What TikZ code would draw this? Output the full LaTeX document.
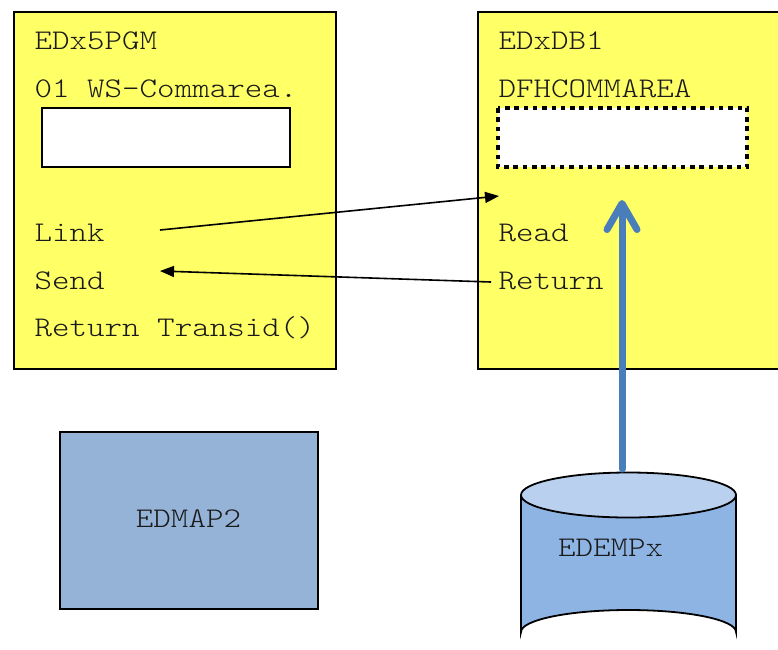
\documentclass[tikz,border=0pt]{standalone}
\usepackage{fontspec}
\setmonofont{Latin Modern Mono Light}[FakeStretch=1.17]
\usetikzlibrary{arrows.meta}
\definecolor{ylw}{HTML}{FFFF66}
\definecolor{mapblue}{HTML}{95B3D7}
\definecolor{dbbody}{HTML}{8EB4E3}
\definecolor{dbtop}{HTML}{B9D1EE}
\definecolor{arrblue}{HTML}{4A7EBB}
\definecolor{txt}{HTML}{1A1A1A}
\tikzset{
  lbl/.style={anchor=base west, inner sep=0pt, font=\ttfamily\fontsize{28.5}{34}\selectfont, text=txt},
  pgmbox/.style={draw=black, line width=1.8pt, fill=ylw},
  areabox/.style={draw=black, line width=1.6pt, fill=white},
  dotbox/.style={draw=black, line width=4.5pt, fill=white, dash pattern=on 4.5pt off 4.8pt},
  flow/.style={line width=1.6pt, -{Triangle[length=14pt,width=11pt]}},
  bigflow/.style={line width=7pt, draw=arrblue, line cap=round, -{Straight Barb[length=26pt,width=30pt,round]}},
}
\begin{document}
\begin{tikzpicture}[x=1pt,y=-1pt]
\useasboundingbox (0,0) rectangle (778,649);
\clip (0,0) rectangle (778,649);
% program boxes
\draw[pgmbox] (14,12) rectangle (336,369);
\draw[pgmbox] (478,12) rectangle (800,369);
\draw[areabox] (42,108) rectangle (290,167);
\draw[dotbox] (498,108) rectangle (747,167);
% left texts
\node[lbl] (pgm) at (34.5,49) {EDx5PGM};
\node[lbl] (ws) at (34.5,97) {01 WS-Commarea.};
\node[lbl] (link) at (34.5,241) {Link};
\node[lbl] (send) at (34.5,289) {Send};
\node[lbl] (rettr) at (34.5,336) {Return Transid()};
% right texts
\node[lbl] (db) at (498.5,49) {EDxDB1};
\node[lbl] (dfh) at (498.5,97) {DFHCOMMAREA};
\node[lbl] (read) at (498.5,241) {Read};
\node[lbl] (ret) at (498.5,289) {Return};
% map box
\node[draw=black, line width=1.8pt, fill=mapblue, minimum width=258pt, minimum height=177pt, inner sep=0pt] (map) at (189,520.5) {};
\node[lbl, anchor=base] (maplbl) at (188.5,527) {EDMAP2};
% cylinder
\fill[dbbody] (521,495) -- (521,632) arc[start angle=180,end angle=360,x radius=107.5,y radius=22] -- (736,495) -- cycle;
\draw[black, line width=1.8pt] (521,495) -- (521,632) arc[start angle=180,end angle=360,x radius=107.5,y radius=22] -- (736,495);
\draw[black, line width=1.8pt, fill=dbtop] (628.5,495) ellipse[x radius=107.5, y radius=22.5];
\node[lbl] (emp) at (558,556) {EDEMPx};
% connectors
\coordinate (linkend) at (160,230);
\coordinate (dbin) at (499,196);
\coordinate (retstart) at (491,282);
\coordinate (sendin) at (160,271);
\draw[flow] (linkend) -- (dbin);
\draw[flow] (retstart) -- (sendin);
\coordinate (dbtopc) at (622,469);
\coordinate (areain) at (622,200);
\draw[bigflow] (dbtopc) -- (areain);
\end{tikzpicture}
\end{document}
